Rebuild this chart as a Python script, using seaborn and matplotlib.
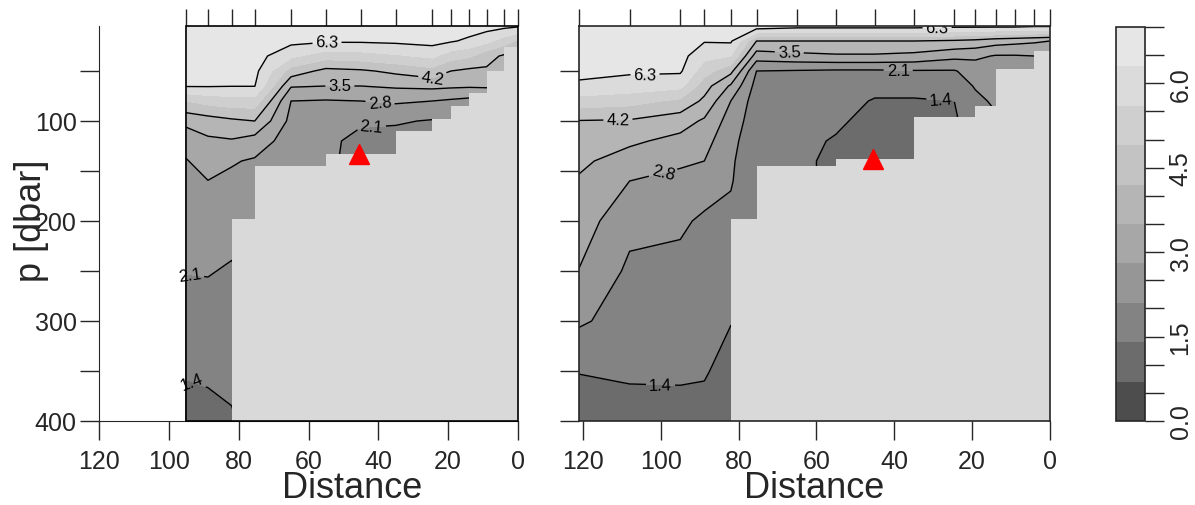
import numpy as np
import matplotlib
matplotlib.use('Agg')
import matplotlib.pyplot as plt
from matplotlib.patches import Rectangle
import seaborn as sns

sns.set_style('ticks')
plt.rcParams['font.family'] = ['Liberation Sans', 'DejaVu Sans']

# pressure levels of the gridded section [dbar]
pressure = [5, 20, 35, 50, 65, 80, 100, 120, 140, 160, 200, 250, 300, 350, 400]

# left section: station distances, bottom depth between stations, field values
left_dist = [95.1, 88.8, 82.0, 75.4, 65.0, 55.0, 45.0, 35.0, 24.6, 19.2, 14.0, 9.0, 4.0, 0.0]
left_bottom = [400, 400, 198, 145, 145, 133, 133, 110, 98, 85, 72, 50, 26]
left_values = [
    [6.8, 6.8, 6.8, 6.9, 6.7, 6.75, 6.75, 6.8, 6.8, 6.75, 6.7, 6.6, 6.5, 6.4],
    [6.7, 6.7, 6.7, 6.75, 6.5, 6.4, 6.4, 6.45, 6.55, 6.38, 6.15, 5.8, 5.25, 4.8],
    [6.6, 6.6, 6.55, 6.6, 5.75, 5.2, 5.3, 5.5, 5.75, 5.2, 5.0, 4.45, 4.1, 4.0],
    [6.5, 6.5, 6.45, 6.5, 4.6, 4.0, 4.1, 4.35, 4.65, 4.2, 4.05, 4.1, 3.8, 3.7],
    [6.35, 6.35, 6.32, 6.32, 3.56, 3.5, 3.5, 3.6, 3.67, 3.62, 3.59, 3.6, 3.6, 3.6],
    [4.9, 5.15, 5.3, 5.3, 2.8, 2.75, 2.8, 2.9, 2.8, 2.7, 2.6, 2.75, 2.9, 3.0],
    [3.7, 3.88, 4.07, 4.2, 2.6, 2.4, 2.22, 2.17, 2.05, 2.4, 2.4, 2.6, 2.8, 2.8],
    [3.05, 3.38, 3.44, 3.2, 2.45, 2.3, 1.85, 1.85, 1.9, 2.3, 2.3, 2.5, 2.7, 2.7],
    [2.76, 3.07, 2.86, 2.72, 2.32, 2.3, 1.75, 1.75, 1.8, 2.2, 2.2, 2.4, 2.6, 2.6],
    [2.62, 2.79, 2.66, 2.62, 2.25, 2.2, 1.7, 1.7, 1.8, 2.1, 2.1, 2.4, 2.5, 2.5],
    [2.4, 2.5, 2.36, 2.45, 2.15, 2.1, 1.6, 1.6, 1.7, 2.0, 2.0, 2.3, 2.4, 2.4],
    [2.12, 2.14, 2.03, 2.3, 2.1, 2.0, 1.6, 1.6, 1.6, 1.9, 1.9, 2.2, 2.3, 2.3],
    [1.79, 1.81, 1.8, 2.1, 2.0, 1.9, 1.5, 1.5, 1.5, 1.8, 1.8, 2.1, 2.2, 2.2],
    [1.45, 1.5, 1.56, 1.9, 1.9, 1.8, 1.5, 1.5, 1.5, 1.7, 1.7, 2.0, 2.1, 2.1],
    [1.15, 1.2, 1.33, 1.7, 1.8, 1.7, 1.4, 1.4, 1.4, 1.6, 1.6, 1.9, 2.0, 2.0],
]

# right section
right_dist = [121.0, 108.0, 95.0, 88.8, 82.0, 75.4, 65.0, 55.0, 45.0, 35.0, 24.6, 19.2, 14.0, 9.0, 4.0, 0.0]
right_bottom = [400, 400, 400, 400, 198, 145, 145, 138, 138, 96, 96, 85, 48, 48, 30]
right_values = [
    [6.9, 6.9, 6.9, 6.75, 6.8, 6.8, 6.6, 6.6, 6.6, 6.6, 6.5, 6.5, 6.5, 6.5, 6.4, 6.4],
    [6.75, 6.7, 6.7, 6.35, 6.4, 4.2, 4.2, 4.2, 4.2, 4.2, 4.1, 4.0, 3.8, 3.7, 3.6, 3.5],
    [6.6, 6.55, 6.55, 5.8, 5.6, 3.15, 3.3, 3.4, 3.4, 3.3, 3.0, 2.95, 2.75, 2.75, 2.8, 2.9],
    [6.45, 6.4, 6.4, 5.2, 4.4, 2.1, 2.05, 2.0, 2.0, 2.05, 2.05, 2.4, 2.5, 2.5, 2.6, 2.7],
    [6.2, 6.0, 5.8, 4.5, 3.4, 1.85, 1.8, 1.8, 1.6, 1.6, 1.75, 2.15, 2.35, 2.4, 2.5, 2.6],
    [5.3, 5.15, 4.75, 4.05, 2.8, 1.75, 1.7, 1.65, 1.35, 1.35, 1.4, 1.95, 2.2, 2.3, 2.4, 2.5],
    [4.17, 4.13, 3.8, 3.4, 2.5, 1.7, 1.6, 1.5, 1.2, 1.25, 1.3, 1.8, 2.0, 2.2, 2.3, 2.4],
    [3.87, 3.62, 3.3, 3.05, 2.3, 1.65, 1.55, 1.35, 1.15, 1.2, 1.25, 1.7, 1.9, 2.1, 2.2, 2.3],
    [3.63, 3.2, 2.9, 2.8, 2.2, 1.6, 1.5, 1.3, 1.1, 1.2, 1.2, 1.6, 1.8, 2.0, 2.1, 2.2],
    [3.43, 2.8, 2.63, 2.4, 2.15, 1.6, 1.5, 1.3, 1.1, 1.2, 1.2, 1.6, 1.8, 2.0, 2.1, 2.2],
    [3.15, 2.3, 2.2, 2.0, 1.95, 1.55, 1.5, 1.3, 1.1, 1.2, 1.2, 1.6, 1.8, 2.0, 2.1, 2.2],
    [2.78, 1.97, 1.93, 1.8, 1.55, 1.5, 1.5, 1.3, 1.1, 1.2, 1.2, 1.6, 1.8, 2.0, 2.1, 2.2],
    [2.2, 1.8, 1.8, 1.7, 1.42, 1.45, 1.5, 1.3, 1.1, 1.2, 1.2, 1.6, 1.8, 2.0, 2.1, 2.2],
    [1.42, 1.47, 1.48, 1.45, 1.2, 1.3, 1.4, 1.3, 1.1, 1.2, 1.2, 1.6, 1.8, 2.0, 2.1, 2.2],
    [1.1, 1.2, 1.2, 1.2, 1.0, 1.2, 1.3, 1.3, 1.1, 1.2, 1.2, 1.6, 1.8, 2.0, 2.1, 2.2],
]

# red triangle (distance, pressure) in each section
left_marker = (45.5, 133)
right_marker = (45.4, 138)

levels = np.linspace(0, 7, 11)
line_levels = [1.4, 2.1, 2.8, 3.5, 4.2, 6.3]
cbar_ticks = np.arange(0, 7.01, 0.5)

# where the contour labels sit
left_label_pos = [(54.7, 20), (24.6, 55), (51, 65), (39.5, 81), (42, 106), (94, 253), (93, 358)]
right_label_pos = [(104, 60), (111, 98), (67, 33), (39, 49), (28, 75), (99, 158), (100, 356), (29, 8)]

grays = [(v, v, v) for v in np.linspace(0.3 ** 2.2, 0.9 ** 2.2, 10) ** (1 / 2.2)]
land = '#d9d9d9'

fig = plt.figure(figsize=(11.95, 5.06), dpi=100)
W, H = 1195, 506


def section(ax, dist, values, bottom, marker, label_pos):
    X, Y = np.meshgrid(dist, pressure)
    Z = np.array(values)
    cf = ax.contourf(X, Y, Z, levels=levels, colors=grays, zorder=1)
    cs = ax.contour(X, Y, Z, levels=line_levels, colors='black', linewidths=1.0, zorder=2)
    ax.clabel(cs, fmt='%.1f', fontsize=12, manual=label_pos, inline_spacing=3)
    ax.fill_between(dist, bottom + [bottom[-1]], 400, step='post', color=land, lw=0, zorder=3)
    ax.plot(marker[0], marker[1], marker='^', color='red', markersize=15, zorder=4, clip_on=False)
    top = ax.secondary_xaxis('top')
    top.set_xticks(dist)
    top.set_xticklabels([])
    top.tick_params(length=12, width=1, direction='out')
    top.spines['top'].set_visible(False)
    ax.set_ylim(400, 5)
    ax.set_xticks([120, 100, 80, 60, 40, 20, 0])
    ax.set_yticks([100, 200, 300, 400])
    ax.set_yticks([50, 150, 250, 350], minor=True)
    ax.tick_params(which='both', length=14, width=1, labelsize=18, direction='out')
    ax.tick_params(axis='x', pad=6)
    ax.tick_params(axis='y', pad=2)
    ax.set_xlabel('Distance', fontsize=26)
    return cf


ax1 = fig.add_axes([99 / W, 84 / H, 419 / W, 395 / H])
ax1.set_xlim(120, 0)
cf = section(ax1, left_dist, left_values, left_bottom, left_marker, left_label_pos)
ax1.spines['top'].set_visible(False)
ax1.spines['right'].set_visible(False)
ax1.add_patch(Rectangle((0, 5), left_dist[0], 395, fill=False, edgecolor='black', lw=1.2,
                        zorder=5, clip_on=False))
ax1.set_ylabel('p [dbar]', fontsize=26)
ax1.yaxis.set_label_coords(-0.12, 0.51)
ax1.xaxis.set_label_coords(0.604, -0.125)

ax2 = fig.add_axes([579 / W, 84 / H, 471 / W, 395 / H])
ax2.set_xlim(right_dist[0], 0)
section(ax2, right_dist, right_values, right_bottom, right_marker, right_label_pos)
ax2.set_yticklabels([])
for s in ax2.spines.values():
    s.set_linewidth(1.2)
    s.set_zorder(5)
ax2.xaxis.set_label_coords(0.5, -0.125)

cax = fig.add_axes([1116 / W, 84 / H, 29 / W, 394 / H])
cb = fig.colorbar(cf, cax=cax, ticks=cbar_ticks)
cb.outline.set_linewidth(1.2)
cax.tick_params(length=14, width=1, labelsize=18, pad=3)
cax.set_yticklabels(['%.1f' % t if abs(t / 1.5 - round(t / 1.5)) < 1e-6 else '' for t in cbar_ticks],
                    rotation=90, va='center')

fig.savefig('out.png', dpi=100)
